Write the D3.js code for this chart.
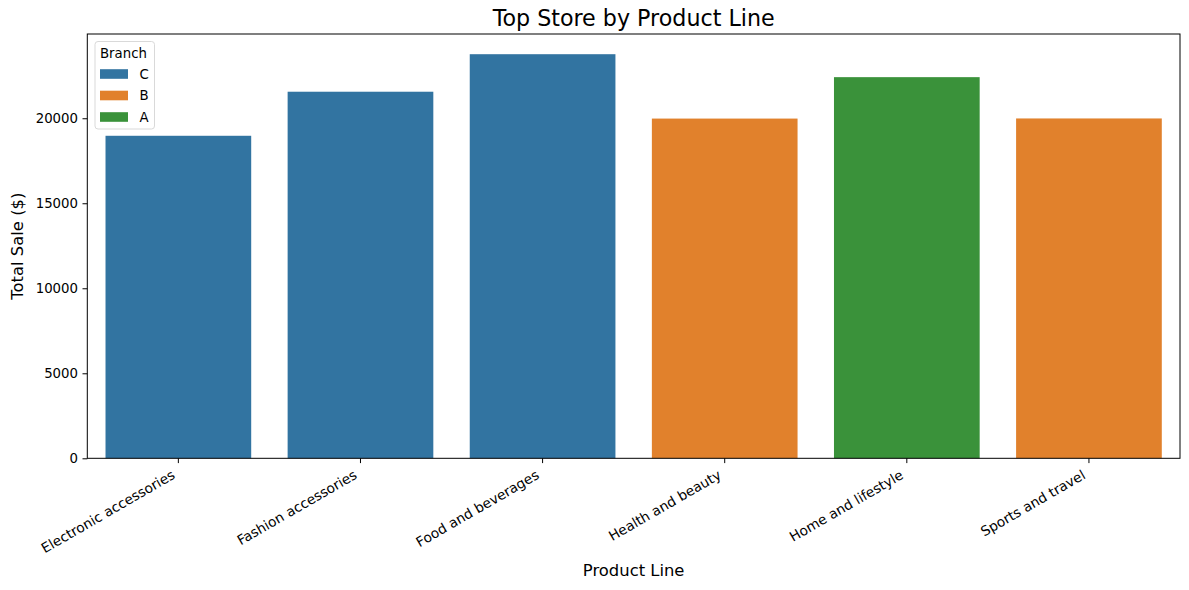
<!DOCTYPE html>
<html><head><meta charset="utf-8">
<script src="https://cdn.jsdelivr.net/npm/d3@7"></script>
<style>body{margin:0;background:#fff}svg{display:block;font-family:"DejaVu Sans",sans-serif}</style>
</head><body><svg id="c" width="1189" height="590"></svg>
<script>
const categories = ["Electronic accessories","Fashion accessories","Food and beverages","Health and beauty","Home and lifestyle","Sports and travel"];
const totals = [18968.97, 21560.07, 23766.86, 19980.66, 22417.20, 19988.20];
const branches = ["C","C","C","B","A","B"];
const legendOrder = ["C","B","A"];
const branchColors = ["#3274a1","#e1812c","#3a923a"];
const yTicks = [0,5000,10000,15000,20000];

const svg = d3.select("#c");
const L = 87.3, R = 1180, T = 34, B = 458.3;
const x = d3.scaleBand().domain(categories).range([L,R]).paddingInner(0.2).paddingOuter(0.1);
const y = d3.scaleLinear().domain([0, d3.max(totals)*1.05]).range([B,T]);
const color = d3.scaleOrdinal().domain(legendOrder).range(branchColors);

const data = categories.map((c,i)=>({c, v:totals[i], b:branches[i]}));
svg.append("g").selectAll("rect").data(data).join("rect")
  .attr("x", d=>x(d.c)).attr("width", x.bandwidth())
  .attr("y", d=>y(d.v)).attr("height", d=>B-y(d.v))
  .attr("fill", d=>color(d.b));

// axes frame
svg.append("rect").attr("x",L).attr("y",T).attr("width",R-L).attr("height",B-T)
  .attr("fill","none").attr("stroke","#000").attr("stroke-width",1);

// y axis
const yg = svg.append("g").attr("transform",`translate(${L},0)`)
  .call(d3.axisLeft(y).tickValues(yTicks).tickFormat(d3.format("d")).tickSize(4.8).tickPadding(4.5));
yg.select(".domain").remove();
yg.selectAll("text").attr("font-size",13.3).attr("font-family","DejaVu Sans").attr("fill","#000");
yg.selectAll("line").attr("stroke","#000");

// x axis
const xg = svg.append("g").attr("transform",`translate(0,${B})`)
  .call(d3.axisBottom(x).tickSize(4.8).tickFormat(""));
xg.select(".domain").remove();
xg.selectAll("line").attr("stroke","#000");
svg.append("g").selectAll("text").data(categories).join("text")
  .attr("transform", d=>`translate(${x(d)+x.bandwidth()/2-2.5},${B+19.5}) rotate(-30)`)
  .attr("text-anchor","end").attr("font-size",13.7).attr("fill","#000").text(d=>d);

// labels
svg.append("text").attr("x",(L+R)/2).attr("y",26).attr("text-anchor","middle")
  .attr("font-size",22.2).attr("fill","#000").text("Top Store by Product Line");
svg.append("text").attr("x",(L+R)/2).attr("y",576).attr("text-anchor","middle")
  .attr("font-size",16.4).attr("fill","#000").text("Product Line");
svg.append("text").attr("transform",`translate(22.5,${(T+B)/2}) rotate(-90)`).attr("text-anchor","middle")
  .attr("font-size",16.4).attr("fill","#000").text("Total Sale ($)");

// legend
const lg = svg.append("g");
lg.append("rect").attr("x",95).attr("y",41.5).attr("width",59.5).attr("height",87.5).attr("rx",3)
  .attr("fill","#fff").attr("fill-opacity",0.8).attr("stroke","#d9d9d9");
lg.append("text").attr("x",100).attr("y",58).attr("font-size",13.3).attr("fill","#000").text("Branch");
legendOrder.forEach((b,i)=>{
  const cy = 74 + i*21.5;
  lg.append("rect").attr("x",100).attr("y",cy-4.8).attr("width",28).attr("height",9.6).attr("fill",color(b));
  lg.append("text").attr("x",139.5).attr("y",cy+4.8).attr("font-size",13.3).attr("fill","#000").text(b);
});
</script></body></html>
